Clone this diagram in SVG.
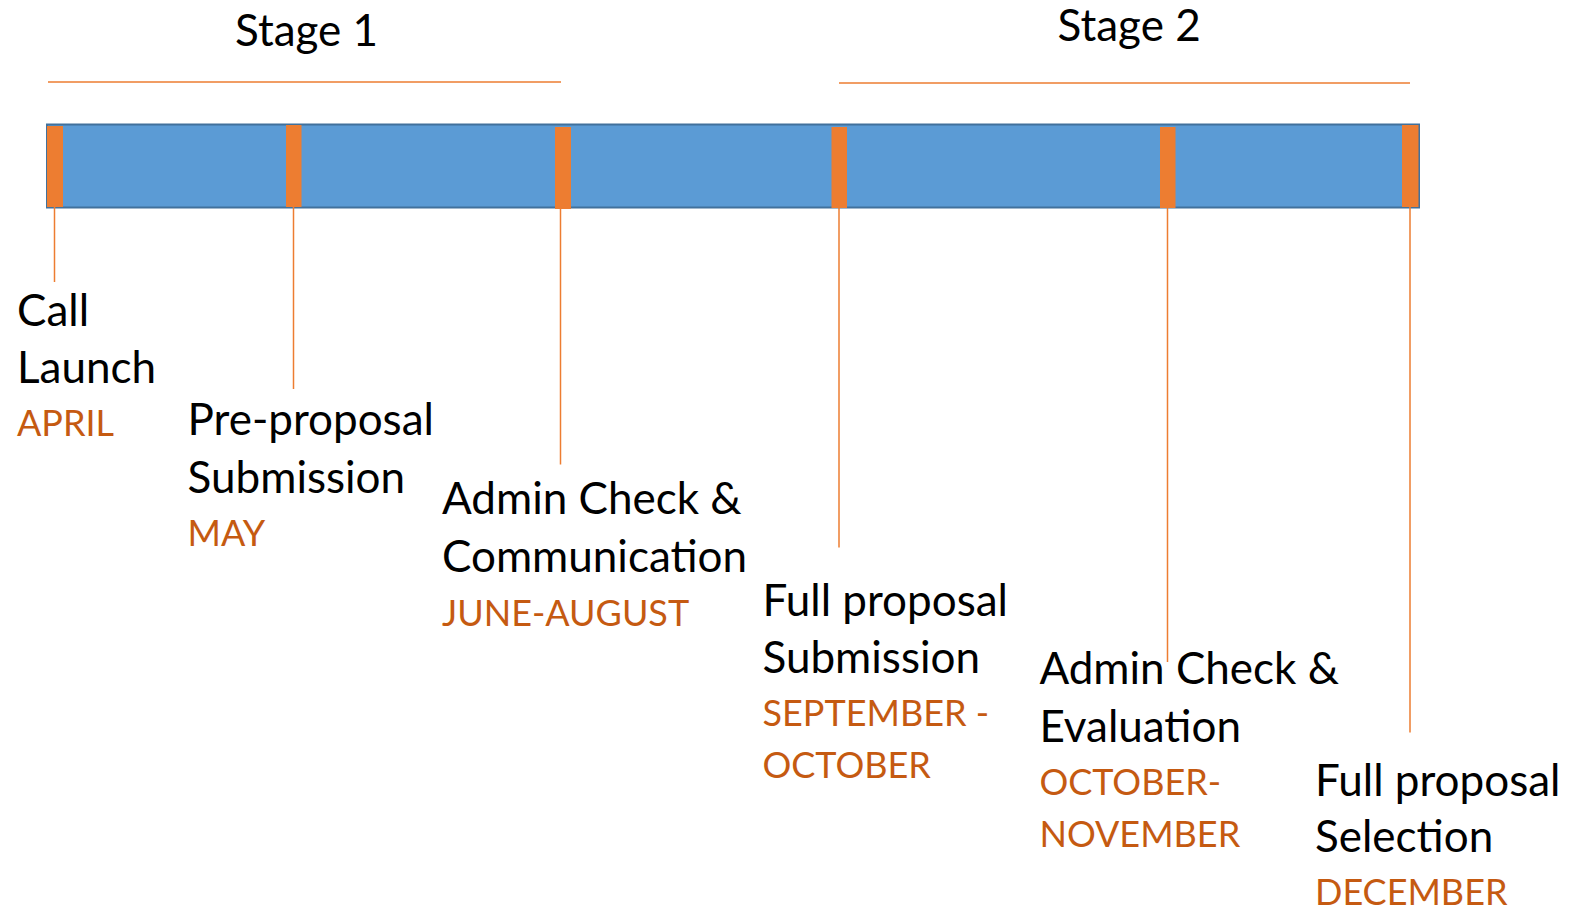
<svg xmlns="http://www.w3.org/2000/svg" width="1590" height="910" viewBox="0 0 1590 910">
<style>
.t{font-family:Lato,"Open Sans",sans-serif;fill:#000;font-size:44px}
.m{font-family:Lato,"Open Sans",sans-serif;fill:#C55A11;font-size:36px}
.st{font-family:Lato,"Open Sans",sans-serif;fill:#000;font-size:44px}
.ln{stroke:#ED7D31;stroke-width:1.5;fill:none}
.mk{fill:#ED7D31}
</style>
<rect width="1590" height="910" fill="#fff"/>
<g id="stage1">
<text class="st" x="235" y="45.6">Stage 1</text>
<line class="ln" x1="48" y1="82" x2="561" y2="82"/>
</g>
<g id="stage2">
<text class="st" x="1057.6" y="40.6">Stage 2</text>
<line class="ln" x1="839" y1="83" x2="1410" y2="83"/>
</g>
<g id="timeline-bar">
<rect x="47" y="124.5" width="1372" height="83" fill="#5B9BD5" stroke="#41719C" stroke-width="2"/>
<rect class="mk" x="47" y="126" width="16" height="81"/>
<rect class="mk" x="286" y="125" width="15.5" height="82"/>
<rect class="mk" x="555" y="127" width="16" height="82"/>
<rect class="mk" x="831.5" y="127" width="15.5" height="81"/>
<rect class="mk" x="1160" y="127" width="15.5" height="81"/>
<rect class="mk" x="1402" y="125" width="16.5" height="82"/>
</g>
<g id="connectors">
<line class="ln" x1="54.5" y1="207" x2="54.5" y2="282"/>
<line class="ln" x1="293.5" y1="207" x2="293.5" y2="389"/>
<line class="ln" x1="560.5" y1="209" x2="560.5" y2="464.5"/>
<line class="ln" x1="839" y1="208" x2="839" y2="547.5"/>
<line class="ln" x1="1167.5" y1="208" x2="1167.5" y2="662"/>
<line class="ln" x1="1410" y1="207" x2="1410" y2="732.5"/>
</g>
<g id="call-launch">
<text class="t" x="17" y="325.5">Call</text>
<text class="t" x="17" y="382.5">Launch</text>
<text class="m" x="17" y="435.5">APRIL</text>
</g>
<g id="pre-proposal">
<text class="t" x="187.6" y="435">Pre-proposal</text>
<text class="t" x="187.6" y="492.8">Submission</text>
<text class="m" x="187.6" y="545.5">MAY</text>
</g>
<g id="admin-check-1">
<text class="t" x="442" y="514">Admin Check &amp;</text>
<text class="t" x="442" y="572">Communication</text>
<text class="m" x="442" y="625.5">JUNE-AUGUST</text>
</g>
<g id="full-proposal-submission">
<text class="t" x="762.5" y="615.5">Full proposal</text>
<text class="t" x="762.5" y="673.3">Submission</text>
<text class="m" x="762.5" y="726">SEPTEMBER -</text>
<text class="m" x="762.5" y="777.7">OCTOBER</text>
</g>
<g id="admin-check-2">
<text class="t" x="1039.4" y="684.3">Admin Check &amp;</text>
<text class="t" x="1039.4" y="742">Evaluation</text>
<text class="m" x="1039.4" y="794.7">OCTOBER-</text>
<text class="m" x="1039.4" y="846.7">NOVEMBER</text>
</g>
<g id="full-proposal-selection">
<text class="t" x="1315" y="795.5">Full proposal</text>
<text class="t" x="1315" y="852.3">Selection</text>
<text class="m" x="1315" y="905">DECEMBER</text>
</g>
</svg>
